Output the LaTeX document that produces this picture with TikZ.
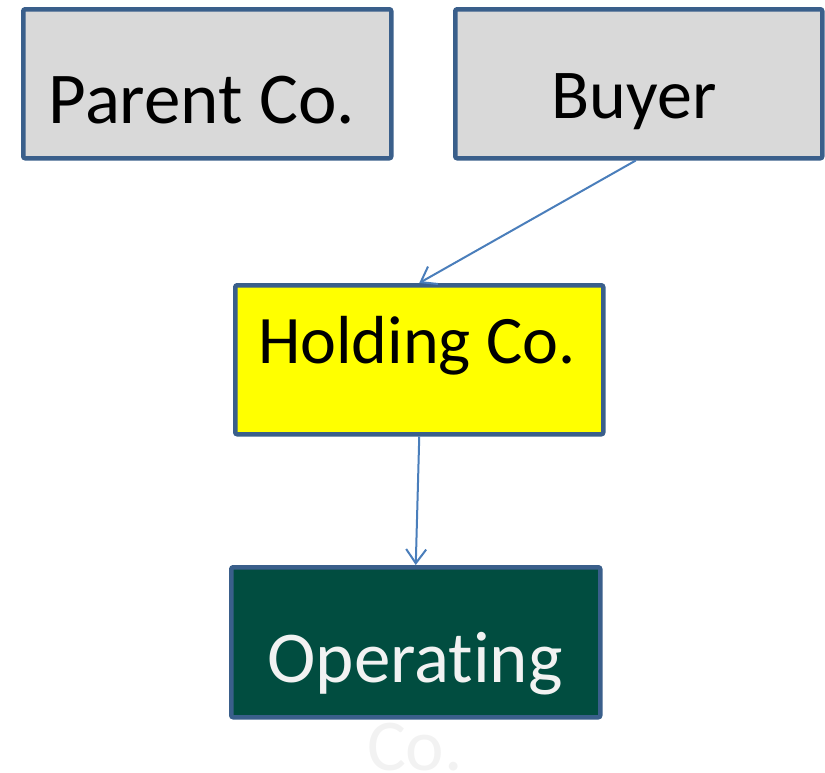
\documentclass[tikz,border=0pt]{standalone}
\usepackage{fontspec}
\setmainfont{Carlito}[Ligatures=NoCommon]
\usetikzlibrary{arrows.meta,calc}
\definecolor{bordc}{RGB}{58,95,139}
\definecolor{arrc}{RGB}{74,126,187}
\definecolor{grayf}{RGB}{217,217,217}
\definecolor{greenf}{RGB}{1,77,64}
\definecolor{yellowf}{RGB}{255,255,0}
\definecolor{lighttxt}{RGB}{242,242,242}
\tikzset{
  boxnode/.style={draw=bordc, line width=4.5pt, rectangle, rounded corners=2pt, inner sep=0pt, anchor=north west},
  lbl/.style={anchor=base, inner sep=0pt},
  conn/.style={draw=arrc, line width=2pt, -{Straight Barb[length=14pt,width=20pt,line width=2pt]}}
}
\begin{document}
\begin{tikzpicture}[x=1pt,y=-1pt]
\useasboundingbox (0,0) rectangle (825,772);
\node[boxnode, fill=grayf, minimum width=368pt, minimum height=149pt] (parent) at (21,7) {};
\node[boxnode, fill=grayf, minimum width=367pt, minimum height=149pt] (buyer) at (453,7) {};
\node[boxnode, fill=yellowf, minimum width=368pt, minimum height=149pt] (holding) at (233,283) {};
\node[boxnode, fill=greenf, minimum width=369pt, minimum height=150pt] (operating) at (229,565) {};
\node[lbl, font=\fontsize{73}{88}\selectfont] (parentlbl) at (202,123) {Parent Co.};
\node[lbl, font=\fontsize{70}{88}\selectfont] (buyerlbl) at (634,118) {Buyer};
\node[lbl, font=\fontsize{68}{88}\selectfont] (holdinglbl) at (417,363) {Holding Co.};
\node[lbl, font=\fontsize{73}{88}\selectfont, text=lighttxt, align=center] (operatinglbl) at (415,770) {Operating\\Co.};
\draw[conn] ($(buyer.south)+(-3,0)$) -- (holding.north);
\draw[conn] (holding.south) -- (operating.north);
\end{tikzpicture}
\end{document}
